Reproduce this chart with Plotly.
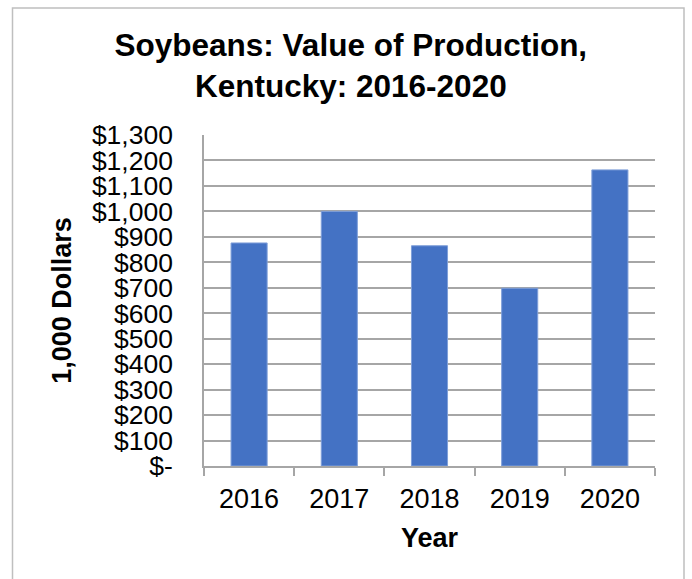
import plotly.graph_objects as go

years = ["2016", "2017", "2018", "2019", "2020"]
values = [876, 1000, 865, 698, 1163]
y_tick_vals = [0, 100, 200, 300, 400, 500, 600, 700, 800, 900, 1000, 1100, 1200, 1300]
y_tick_text = ["$-", "$100", "$200", "$300", "$400", "$500", "$600", "$700",
               "$800", "$900", "$1,000", "$1,100", "$1,200", "$1,300"]

FONT = "Liberation Sans, Arial, sans-serif"
GRID = "#a6a6a6"

fig = go.Figure(go.Bar(
    x=years, y=values,
    marker=dict(color="#4472C4", line=dict(color="#7f9fd9", width=1)),
    width=0.4,
))

fig.update_layout(
    width=692, height=579,
    margin=dict(l=204, r=37, t=135, b=113),
    paper_bgcolor="white", plot_bgcolor="white",
    showlegend=False,
    font=dict(family=FONT, color="black"),
    title=dict(
        text="<b>Soybeans: Value of Production,<br>Kentucky: 2016-2020</b>",
        font=dict(size=31.5, family=FONT, color="black"),
        x=0.507, xref="container", xanchor="center",
        y=1 - 56 / 579, yref="container", yanchor="middle",
    ),
    xaxis=dict(
        type="category",
        showline=True, linecolor=GRID, linewidth=1.5,
        ticks="outside", tickson="boundaries", ticklen=8, tickcolor=GRID, tickwidth=1.5,
        ticklabelstandoff=8,
        tickfont=dict(size=27, family=FONT, color="black"),
        showgrid=False,
        title=dict(text="<b>Year</b>", font=dict(size=27, family=FONT, color="black"), standoff=15),
    ),
    yaxis=dict(
        range=[0, 1300],
        tickvals=y_tick_vals, ticktext=y_tick_text,
        showline=True, linecolor=GRID, linewidth=1.5,
        showgrid=True, gridcolor=GRID, gridwidth=1.5,
        zeroline=False,
        ticks="", ticklabelstandoff=24,
        tickfont=dict(size=26.5, family=FONT, color="black"),
        title=dict(text="<b>1,000 Dollars</b>", font=dict(size=27, family=FONT, color="black"), standoff=12),
    ),
    shapes=[dict(
        type="rect", xref="paper", yref="paper",
        x0=(12.5 - 204) / 451, x1=(684 - 204) / 451,
        y0=-0.5, y1=(466 - 8) / 331,
        line=dict(color="#bfbfbf", width=1.5), fillcolor="rgba(0,0,0,0)", layer="below",
    )],
)

fig.write_html("out.html", config={"displayModeBar": False},
               post_script="document.body.style.margin='0';document.body.style.overflow='hidden';")
